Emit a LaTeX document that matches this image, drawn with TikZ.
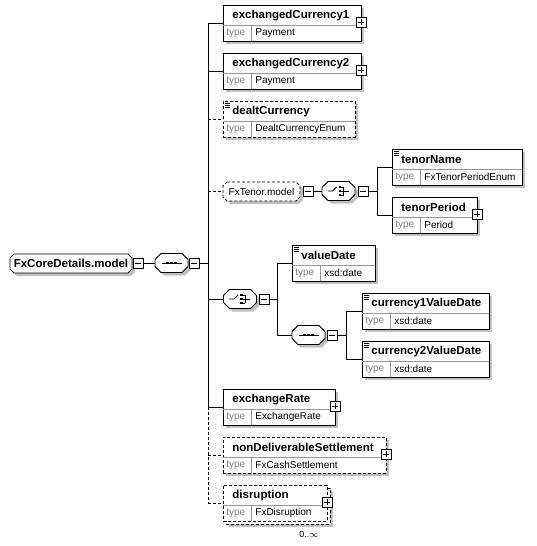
\documentclass[tikz,border=0pt]{standalone}
\usepackage{fontspec}
\setmainfont{Liberation Sans}
\usetikzlibrary{shadows}
\definecolor{shadowgray}{RGB}{192,192,192}
\definecolor{typegray}{RGB}{128,128,128}
\definecolor{rulegray}{RGB}{150,150,150}

\tikzset{
  shad/.style={drop shadow={shadow xshift=3pt,shadow yshift=-3pt,fill=shadowgray,opacity=1}},
  opt/.style={dash pattern=on 3pt off 2pt},
  elembox/.style={draw,fill=white,anchor=north west,minimum height=36pt,inner sep=0pt,outer sep=0pt},
  namelbl/.style={anchor=west,inner sep=0pt,font=\fontsize{11.5}{13}\selectfont\bfseries},
  typelbl/.style={anchor=west,inner sep=0pt,font=\fontsize{10}{12}\selectfont},
  pmbox/.style={draw,fill=white,minimum size=10pt,inner sep=0pt,outer sep=0pt},
  minusbox/.style={pmbox,path picture={
    \draw ([xshift=2pt]path picture bounding box.west) -- ([xshift=-2pt]path picture bounding box.east);}},
  plusbox/.style={pmbox,path picture={
    \draw ([xshift=2pt]path picture bounding box.west) -- ([xshift=-2pt]path picture bounding box.east);
    \draw ([yshift=-2pt]path picture bounding box.north) -- ([yshift=2pt]path picture bounding box.south);}}
}

% element box: [options]{id}{left}{top}{width}{name}{type}
\newcommand{\xsdelem}[7][shad]{%
  \node[elembox,#1,minimum width=#5pt] (#2) at (#3,#4) {};
  \draw[rulegray] ([yshift=-20pt]#2.north west) -- ([yshift=-20pt]#2.north east);
  \draw[rulegray] ([xshift=28pt,yshift=-20pt]#2.north west) -- ([xshift=28pt]#2.south west);
  \node[namelbl] (#2-n) at ([xshift=9pt,yshift=-10.5pt]#2.north west) {#6};
  \node[typelbl,text=typegray] (#2-t) at ([xshift=3pt,yshift=-28pt]#2.north west) {type};
  \node[typelbl] (#2-v) at ([xshift=32pt,yshift=-28pt]#2.north west) {#7};
}
% octagon (group / compositor): [options]{id}{cx}{cy}{width}{cut}{font}{text}
\newcommand{\octnode}[8][]{%
  \pgfmathsetmacro\oxa{#3-#5/2}\pgfmathsetmacro\oxb{#3+#5/2}%
  \pgfmathsetmacro\oya{#4-9.5}\pgfmathsetmacro\oyb{#4+9.5}%
  \fill[shadowgray,shift={(3,3)}] (\oxa+#6,\oya) -- (\oxb-#6,\oya) -- (\oxb,\oya+#6) -- (\oxb,\oyb-#6)
    -- (\oxb-#6,\oyb) -- (\oxa+#6,\oyb) -- (\oxa,\oyb-#6) -- (\oxa,\oya+#6) -- cycle;
  \draw[fill=white,#1] (\oxa+#6,\oya) -- (\oxb-#6,\oya) -- (\oxb,\oya+#6) -- (\oxb,\oyb-#6)
    -- (\oxb-#6,\oyb) -- (\oxa+#6,\oyb) -- (\oxa,\oyb-#6) -- (\oxa,\oya+#6) -- cycle;
  \node[inner sep=0pt,outer sep=0pt,minimum width=#5pt,minimum height=19pt,font=#7] (#2) at (#3,#4) {#8};
}
% sequence mark
\newcommand{\seqmark}[1]{%
  \draw ([xshift=-10pt]#1.center) -- ([xshift=10pt]#1.center);
  \foreach \d in {-4,0,4}
    \fill ([xshift=\d pt-1.4pt,yshift=-1.4pt]#1.center) rectangle ([xshift=\d pt+1.4pt,yshift=1.4pt]#1.center);
}
% choice mark
\newcommand{\choicemark}[1]{%
  \draw ([xshift=-11pt]#1.center) -- ([xshift=-6pt]#1.center) -- ([xshift=-2pt,yshift=4pt]#1.center);
  \foreach \d in {-4,0,4} {
    \fill ([yshift=\d pt-1.3pt]#1.center) rectangle ([xshift=2.6pt,yshift=\d pt+1.3pt]#1.center);
    \draw ([xshift=2.6pt,yshift=\d pt]#1.center) -- ([xshift=5pt,yshift=\d pt]#1.center);}
  \draw ([xshift=5pt,yshift=4pt]#1.center) -- ([xshift=5pt,yshift=-4pt]#1.center);
  \draw ([xshift=5pt]#1.center) -- ([xshift=10pt]#1.center);
}
% simple content mark
\newcommand{\simpmark}[1]{%
  \foreach \k in {2,4,6}
    \draw[line width=0.7pt] ([xshift=2pt,yshift=-\k pt]#1.north west) -- ([xshift=7pt,yshift=-\k pt]#1.north west);
}

\begin{document}
\begin{tikzpicture}[x=1pt,y=-1pt,line width=0.8pt]
\useasboundingbox (0,0) rectangle (537,546);

% root group and its sequence
\octnode{root}{71}{263.5}{122}{4}{\fontsize{11.5}{13}\selectfont\bfseries}{FxCoreDetails.model}
\node[minusbox] (root-m) at (138,263) {};
\octnode{seq0}{171.5}{263}{33}{6}{}{}
\seqmark{seq0}
\node[minusbox] (seq0-m) at (194,263) {};
\coordinate (busA) at (208,263);
\draw (root-m) -- (seq0);
\draw (seq0-m) -- (busA);

% children of the main sequence
\xsdelem{ec1}{223}{5}{138}{exchangedCurrency1}{Payment}
\node[plusbox] (ec1-p) at ([yshift=1pt]ec1.east) {};
\xsdelem{ec2}{223}{53}{138}{exchangedCurrency2}{Payment}
\node[plusbox] (ec2-p) at ([yshift=1pt]ec2.east) {};
\xsdelem[shad,opt]{dealt}{223}{101}{132}{dealtCurrency}{DealtCurrencyEnum}
\simpmark{dealt}

\octnode[opt]{tenor}{261.5}{191.5}{77}{4}{\fontsize{10}{12}\selectfont}{FxTenor.model}
\node[minusbox] (tenor-m) at (308,191) {};
\octnode{ch1}{338.5}{191}{33}{6}{}{}
\choicemark{ch1}
\node[minusbox] (ch1-m) at (363,191) {};
\coordinate (busB) at (377,191);
\draw (tenor-m) -- (ch1);
\draw (ch1-m) -- (busB);
\xsdelem{tname}{392}{149}{130}{tenorName}{FxTenorPeriodEnum}
\simpmark{tname}
\xsdelem{tper}{392}{197}{85}{tenorPeriod}{Period}
\node[plusbox] (tper-p) at ([yshift=1pt]tper.east) {};

\octnode{ch2}{240}{299}{33}{6}{}{}
\choicemark{ch2}
\node[minusbox] (ch2-m) at (264,299) {};
\coordinate (busC) at (277,299);
\draw (ch2-m) -- (busC);
\xsdelem{vdate}{292}{245}{83}{valueDate}{xsd:date}
\simpmark{vdate}
\octnode{seq2}{308.5}{335}{33}{6}{}{}
\seqmark{seq2}
\node[minusbox] (seq2-m) at (332,335) {};
\coordinate (busD) at (346,335);
\draw (seq2-m) -- (busD);
\xsdelem{c1vd}{362}{293}{127}{currency1ValueDate}{xsd:date}
\simpmark{c1vd}
\xsdelem{c2vd}{362}{341}{127}{currency2ValueDate}{xsd:date}
\simpmark{c2vd}

\xsdelem{exr}{223}{389}{112}{exchangeRate}{ExchangeRate}
\node[plusbox] (exr-p) at ([yshift=1pt]exr.east) {};
\xsdelem[shad,opt]{nds}{223}{437}{163}{nonDeliverableSettlement}{FxCashSettlement}
\node[plusbox] (nds-p) at ([yshift=1pt]nds.east) {};
\node[elembox,shad,opt,minimum width=104pt] (dis-b) at (226,488) {};
\xsdelem[opt]{dis}{223}{485}{104}{disruption}{FxDisruption}
\node[plusbox] (dis-p) at ([yshift=1pt]dis.east) {};
\node[font=\fontsize{9}{11}\selectfont] (dis-occ) at (309,534) {0..$\infty$};

% connectors
\draw (busA |- ec1.west) -- (busA |- exr.west);
\draw[opt] (busA |- exr.west) -- (busA |- dis.west);
\draw (busA |- ec1.west) -- (ec1.west);
\draw (busA |- ec2.west) -- (ec2.west);
\draw[opt] (busA |- dealt.west) -- (dealt.west);
\draw[opt] (busA |- tenor.west) -- (tenor.west);
\draw (busA |- ch2.west) -- (ch2.west);
\draw (busA |- exr.west) -- (exr.west);
\draw[opt] (busA |- nds.west) -- (nds.west);
\draw[opt] (busA |- dis.west) -- (dis.west);
\draw (busB |- tname.west) -- (busB |- tper.west);
\draw (busB |- tname.west) -- (tname.west);
\draw (busB |- tper.west) -- (tper.west);
\draw (busC |- vdate.west) -- (busC |- seq2.west);
\draw (busC |- vdate.west) -- (vdate.west);
\draw (busC |- seq2.west) -- (seq2.west);
\draw (busD |- c1vd.west) -- (busD |- c2vd.west);
\draw (busD |- c1vd.west) -- (c1vd.west);
\draw (busD |- c2vd.west) -- (c2vd.west);
\end{tikzpicture}
\end{document}
